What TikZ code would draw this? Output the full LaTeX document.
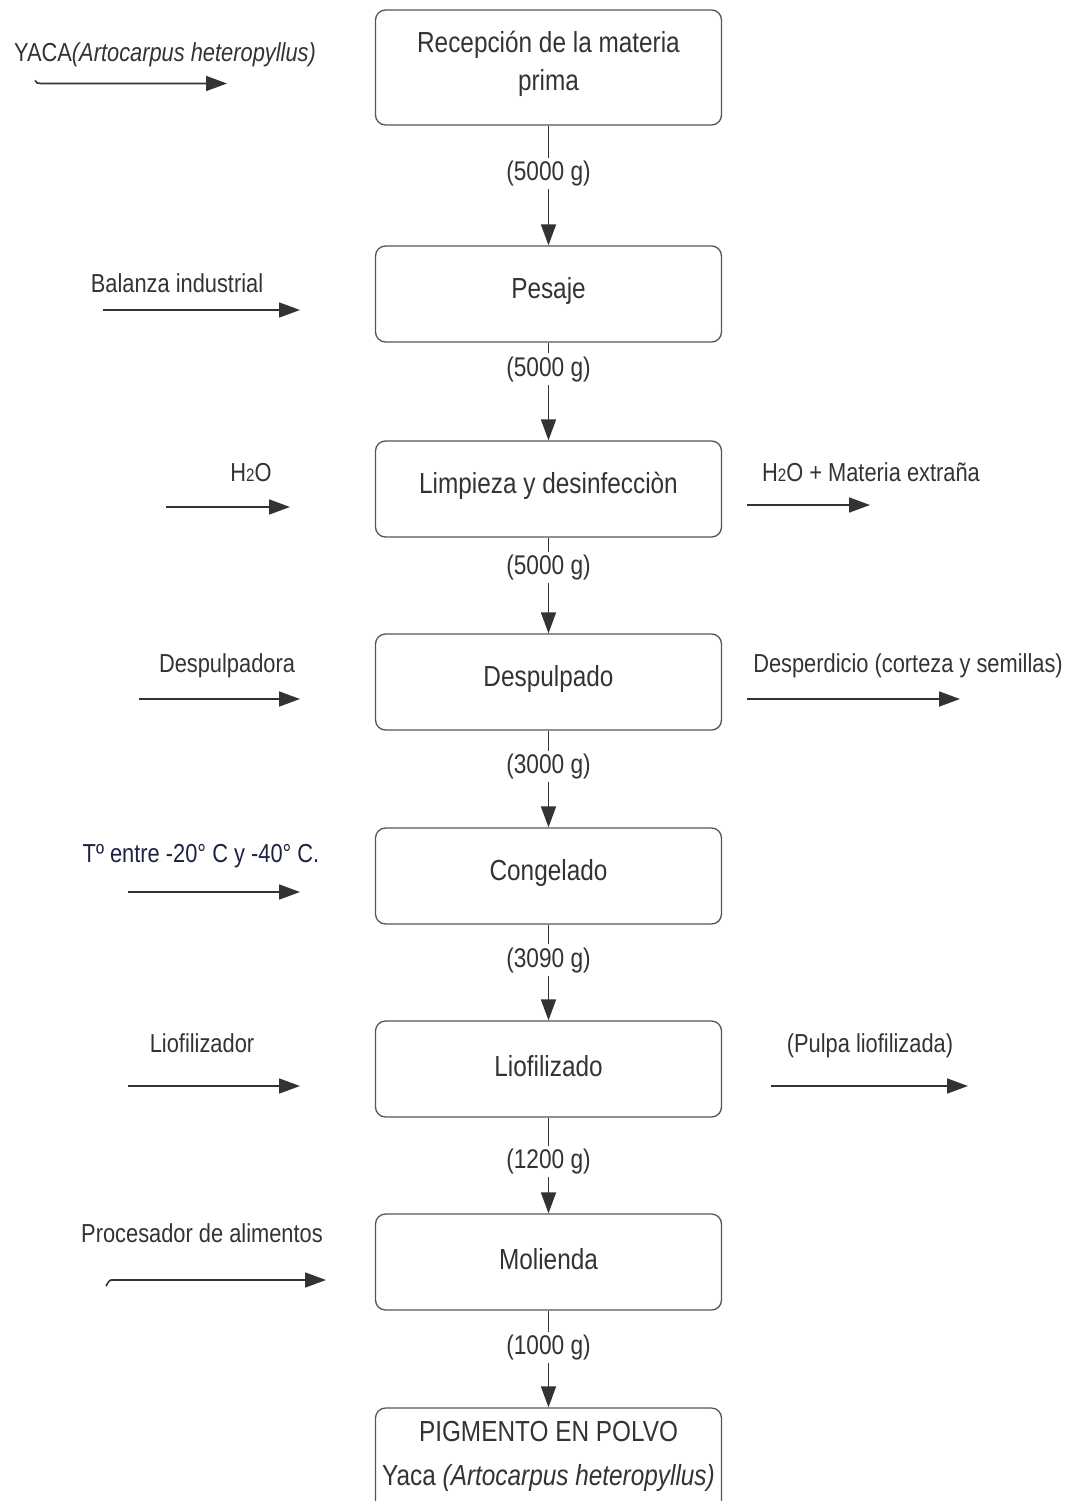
\documentclass[tikz,border=0pt]{standalone}
\usepackage{fontspec}
\setmainfont{Liberation Sans}[FakeStretch=0.84]
\usetikzlibrary{arrows.meta}
\definecolor{ink}{HTML}{333333}
\definecolor{boxline}{HTML}{555555}
\definecolor{navy}{HTML}{1B2342}
\newcommand{\Htwo}{H{\fontsize{18}{20}\selectfont 2}O}
\begin{document}
\begin{tikzpicture}[x=1pt,y=-1pt,
  every node/.style={font=\fontsize{26}{30}\selectfont, text=ink},
  boxtext/.style={font=\fontsize{29}{34}\selectfont, inner sep=0},
  stepbox/.style={draw=boxline, line width=1.3, rounded corners=10, minimum width=346, minimum height=96, align=center, inner sep=0},
  flow/.style={draw=ink, line width=1.6, -{Triangle[length=21,width=15]}},
  lbl/.style={fill=white, inner sep=3, font=\fontsize{27}{30}\selectfont},
  side/.style={anchor=base, inner sep=0}
]
\useasboundingbox (0,0) rectangle (1073,1501);
\clip (0,0) rectangle (1073,1501);
% boxes
\node[stepbox, minimum height=115] (b1) at (548.5,67.5) {};
\node[boxtext] (b1t1) at (548.5,45) {Recepción de la materia};
\node[boxtext] (b1t2) at (548.5,83) {prima};
\node[stepbox] (b2) at (548.5,294) {};
\node[boxtext] (b2t) at (548.5,291) {Pesaje};
\node[stepbox] (b3) at (548.5,489) {};
\node[boxtext] (b3t) at (548.5,486) {Limpieza y desinfecciòn};
\node[stepbox] (b4) at (548.5,682) {};
\node[boxtext] (b4t) at (548.5,679) {Despulpado};
\node[stepbox] (b5) at (548.5,876) {};
\node[boxtext] (b5t) at (548.5,873) {Congelado};
\node[stepbox] (b6) at (548.5,1069) {};
\node[boxtext] (b6t) at (548.5,1066) {Liofilizado};
\node[stepbox] (b7) at (548.5,1262) {};
\node[boxtext] (b7t) at (548.5,1259) {Molienda};
\node[stepbox, minimum height=130] (b8) at (548.5,1473) {};
\node[boxtext] (b8t1) at (548.5,1431) {PIGMENTO EN POLVO};
\node[boxtext] (b8t2) at (548.5,1478) {Yaca \textit{(Artocarpus heteropyllus)}};
% main flow
\draw[flow] (b1.south) -- node[lbl, pos=0.40] {(5000 g)} (b2.north);
\draw[flow] (b2.south) -- node[lbl, pos=0.27] {(5000 g)} (b3.north);
\draw[flow] (b3.south) -- node[lbl, pos=0.31] {(5000 g)} (b4.north);
\draw[flow] (b4.south) -- node[lbl, pos=0.37] {(3000 g)} (b5.north);
\draw[flow] (b5.south) -- node[lbl, pos=0.37] {(3090 g)} (b6.north);
\draw[flow] (b6.south) -- node[lbl, pos=0.46] {(1200 g)} (b7.north);
\draw[flow] (b7.south) -- node[lbl, pos=0.38] {(1000 g)} (b8.north);
% left inputs
\node[side] (t1) at (165,62) {YACA\textit{(Artocarpus heteropyllus)}};
\coordinate (a1s) at (35,80.5); \coordinate (a1e) at (227,83.5);
\draw[flow] (a1s) to[out=-80,in=180] ++(6,3) -- (a1e);
\node[side] (t2) at (177,292) {Balanza industrial};
\coordinate (a2s) at (103,310); \coordinate (a2e) at (300,310);
\draw[flow] (a2s) -- (a2e);
\node[side] (t3) at (251,481) {\Htwo};
\coordinate (a3s) at (166,507); \coordinate (a3e) at (290,507);
\draw[flow] (a3s) -- (a3e);
\node[side] (t4) at (227,672) {Despulpadora};
\coordinate (a4s) at (139,699); \coordinate (a4e) at (300,699);
\draw[flow] (a4s) -- (a4e);
\node[side, text=navy] (t5) at (201,862) {Tº entre -20° C y -40° C.};
\coordinate (a5s) at (128,892); \coordinate (a5e) at (300,892);
\draw[flow] (a5s) -- (a5e);
\node[side] (t6) at (202,1052) {Liofilizador};
\coordinate (a6s) at (128,1086); \coordinate (a6e) at (300,1086);
\draw[flow] (a6s) -- (a6e);
\node[side] (t7) at (202,1242) {Procesador de alimentos};
\coordinate (a7s) at (106,1285); \coordinate (a7e) at (326,1280);
\draw[flow] (a7s) to[out=-90,in=180] ++(5,-5) -- (a7e);
% right outputs
\node[side] (r1) at (871,481) {\Htwo{} + Materia extraña};
\coordinate (c1s) at (747,505); \coordinate (c1e) at (870,505);
\draw[flow] (c1s) -- (c1e);
\node[side] (r2) at (908,672) {Desperdicio (corteza y semillas)};
\coordinate (c2s) at (747,699); \coordinate (c2e) at (960,699);
\draw[flow] (c2s) -- (c2e);
\node[side] (r3) at (870,1052) {(Pulpa liofilizada)};
\coordinate (c3s) at (771,1086); \coordinate (c3e) at (968,1086);
\draw[flow] (c3s) -- (c3e);
\end{tikzpicture}
\end{document}
